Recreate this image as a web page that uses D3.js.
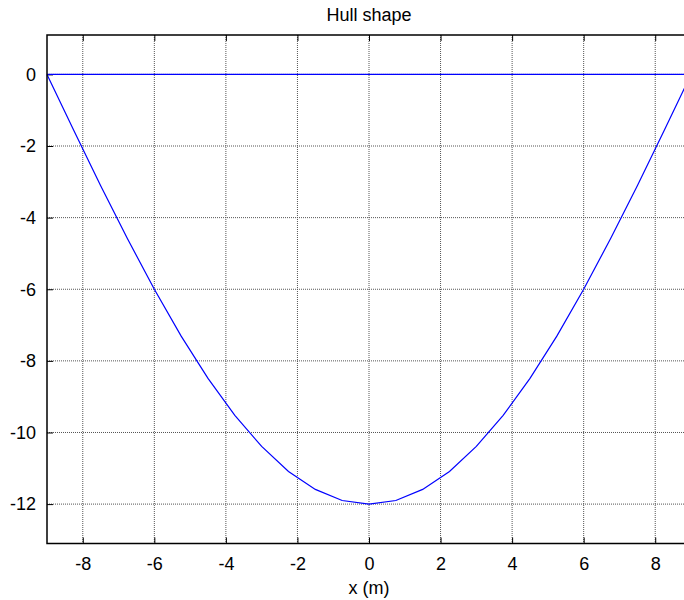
<!DOCTYPE html>
<meta charset="utf-8">

<style type="text/css">
  body {
  	margin: 0;
  	overflow: hidden;
  	background: #fff;
  }

  text {
  	font-family: "Liberation Sans", Arial, sans-serif;
  	font-size: 18px;
  	fill: #000;
  }

  .grid line {
  	stroke: #555;
  	stroke-dasharray: 1 1;
  }

  .hull {
  	fill: none;
  	stroke: #0000ff;
  	stroke-width: 1.2;
  }

</style>

<body>
</body>

<script src="https://d3js.org/d3.v7.min.js"></script>

<script>

// hull section points (x in m, depth in m)
var hullX = [-9, -8.25, -7.5, -6.75, -6, -5.25, -4.5, -3.75, -3, -2.25, -1.5, -0.75, 0,
             0.75, 1.5, 2.25, 3, 3.75, 4.5, 5.25, 6, 6.75, 7.5, 8.25, 9];
var hullY = [0, -1.57, -3.11, -4.59, -6, -7.31, -8.49, -9.52, -10.39, -11.09, -11.59, -11.9, -12,
             -11.9, -11.59, -11.09, -10.39, -9.52, -8.49, -7.31, -6, -4.59, -3.11, -1.57, 0];

var xTicks = [-8, -6, -4, -2, 0, 2, 4, 6, 8];
var yTicks = [0, -2, -4, -6, -8, -10, -12];

//plot box (right side runs past the window, like the original)
var box = {left: 47, top: 35, right: 691, bottom: 543.5};

var svg = d3.select("body").append("svg")
    .attr("width", 684)
    .attr("height", 600);

var xscale = d3.scaleLinear()
	.domain([-9, 9])
	.range([box.left, box.right]);

var yscale = d3.scaleLinear()
	.domain([-13.1, 1.1])
	.range([box.bottom, box.top]);

//dotted grid
var grid = svg.append("g").attr("class", "grid");

grid.selectAll("line.vx")
	.data(xTicks)
	.enter()
	.append("line")
	.attr("x1", function(d) { return xscale(d); })
	.attr("x2", function(d) { return xscale(d); })
	.attr("y1", box.top)
	.attr("y2", box.bottom);

grid.selectAll("line.hy")
	.data(yTicks)
	.enter()
	.append("line")
	.attr("x1", box.left)
	.attr("x2", box.right)
	.attr("y1", function(d) { return yscale(d); })
	.attr("y2", function(d) { return yscale(d); });

//axes: ticks point inwards
var xaxis = d3.axisBottom(xscale)
	.tickValues(xTicks)
	.tickSize(-6)
	.tickPadding(14);

var xaxisTop = d3.axisTop(xscale)
	.tickValues(xTicks)
	.tickSize(-6)
	.tickFormat("");

var yaxis = d3.axisLeft(yscale)
	.tickValues(yTicks)
	.tickSize(-6)
	.tickPadding(11);

function styleAxis(g) {
	g.select(".domain").remove();
	g.selectAll(".tick line").attr("stroke", "#000");
	g.selectAll("text")
		.attr("font-family", null)
		.attr("font-size", null);
}

svg.append("g")
	.attr("transform", "translate(0," + box.bottom + ")")
	.call(xaxis)
	.call(styleAxis)
	.selectAll("text")
	.text(function(d) { return String(d); }); // plain hyphen minus

svg.append("g")
	.attr("transform", "translate(0," + box.top + ")")
	.call(xaxisTop)
	.call(styleAxis);

svg.append("g")
	.attr("transform", "translate(" + box.left + ",0)")
	.call(yaxis)
	.call(styleAxis)
	.selectAll("text")
	.text(function(d) { return String(d); });

//hull outline, closed along the deck at y = 0
var line = d3.line()
	.x(function(d) { return xscale(d[0]); })
	.y(function(d) { return yscale(d[1]); });

var pts = hullX.map(function(x, i) { return [x, hullY[i]]; });
pts.push([hullX[0], hullY[0]]);

svg.append("path")
	.attr("class", "hull")
	.attr("d", line(pts));

//box lines (left, top, bottom)
svg.append("path")
	.attr("d", "M" + box.right + "," + box.top + "H" + box.left + "V" + box.bottom + "H" + box.right)
	.attr("fill", "none")
	.attr("stroke", "#000")
	.attr("stroke-width", 1.5);

//titles
svg.append("text")
	.attr("x", xscale(0))
	.attr("y", 21)
	.attr("text-anchor", "middle")
	.text("Hull shape");

svg.append("text")
	.attr("x", xscale(0))
	.attr("y", 594)
	.attr("text-anchor", "middle")
	.text("x (m)");

</script>
